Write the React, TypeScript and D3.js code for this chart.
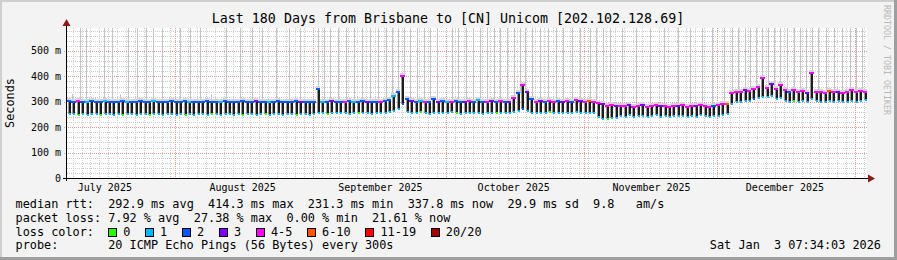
import React from 'react';
import * as d3 from 'd3';

const W = 897;
const H = 260;
const DAY = 86400000;
const END = Date.UTC(2026, 0, 3, 17, 34);
const START = END - 180 * DAY;

const title = 'Last 180 Days from Brisbane to [CN] Unicom [202.102.128.69]';
const yTicks = [0, 100, 200, 300, 400, 500];
const yTickLabels = ['0', '100 m', '200 m', '300 m', '400 m', '500 m'];
const monthStarts = ['2025-07-01', '2025-08-01', '2025-09-01', '2025-10-01', '2025-11-01', '2025-12-01', '2026-01-01'];
const monthLabels = ['July 2025', 'August 2025', 'September 2025', 'October 2025', 'November 2025', 'December 2025'];

const lossLabels = ['0', '1', '2', '3', '4-5', '6-10', '11-19', '20/20'];
const lossColors = ['#26ff00', '#00b8ff', '#0059ff', '#7e00ff', '#ff00ff', '#ff5500', '#ff0000', '#a10000'];

// daily median level (ms), day 0 = start of chart
const dayTop = [
  302, 300, 305, 298, 301, 303, 299, 300, 302, 298, 301, 300, 304, 299, 301, 300, 302, 298, 300, 303, 299, 301, 300, 302, 299,
  300, 302, 299, 301, 300, 298, 303, 301, 299, 300, 302, 300, 298, 301, 305, 300, 299, 302, 300, 301, 298, 300, 303, 299, 301, 300, 302, 299, 300, 301, 300,
  350, 301, 299, 302, 300, 298, 301, 303, 300, 299, 302, 300, 298, 301, 300, 302,
  308, 322, 338, 400, 310,
  302, 300, 305, 299, 301, 310, 300, 303, 298, 301, 304, 300, 299, 302, 300, 306, 301, 299, 303, 300, 302, 298, 301,
  315, 335, 365, 340, 310,
  301, 303, 299, 305, 300, 302, 298, 304, 300, 306, 302, 299, 303, 300,
  295, 290, 285, 288, 285,
  285, 282, 287, 280, 284, 286, 281, 283, 288, 282, 285, 280, 284, 283, 286, 281, 285, 282, 287, 283, 280, 284, 288, 290, 292,
  335,
  340, 338, 345, 342, 350, 360, 392, 355, 370, 352, 366, 348, 340, 345, 338, 342, 336, 415, 340, 338, 335, 342, 337, 340, 336, 339, 345, 338, 341, 338,
];
// daily low dip (ms)
const dayDip = [
  252, 250, 248, 251, 249, 250, 252, 248, 250, 251, 249, 250, 248, 252, 250, 249, 251, 250, 248, 250, 252, 249, 251, 250, 248,
  250, 248, 251, 249, 252, 250, 248, 250, 251, 249, 250, 252, 248, 250, 249, 251, 250, 248, 252, 250, 249, 251, 250, 248, 250, 252, 249, 250, 251, 249, 250,
  255, 255, 253, 256, 254, 257, 255, 253, 256, 254, 255, 257, 253, 255, 256, 254,
  258, 262, 270, 290, 258,
  256, 254, 258, 255, 253, 257, 255, 254, 256, 258, 255, 253, 256, 254, 257, 255, 253, 256, 254, 255, 257, 256, 254,
  258, 262, 270, 265, 256,
  255, 257, 254, 258, 256, 255, 257, 254, 256, 258, 255, 257, 254, 256,
  240, 232, 231, 235, 238,
  245, 242, 247, 240, 244, 246, 241, 243, 248, 242, 245, 240, 244, 243, 246, 241, 245, 242, 247, 243, 240, 244, 246, 248, 250,
  290,
  300, 298, 305, 302, 310, 315, 320, 318, 322, 310, 315, 305, 300, 302, 298, 305, 300, 310, 302, 300, 298, 305, 300, 302, 298, 300, 305, 300, 302, 308,
];
const topLoss = [
  2, 2, 4, 2, 1, 2, 2, 2, 1, 2, 2, 2, 2, 1, 2, 2, 2, 2, 2, 1, 2, 2, 2, 2, 2,
  2, 2, 1, 2, 2, 2, 2, 2, 2, 1, 2, 2, 2, 2, 2, 2, 2, 3, 2, 2, 1, 2, 2, 2, 2, 2, 2, 3, 2, 2, 2,
  2, 1, 2, 3, 2, 2, 4, 2, 1, 2, 2, 3, 2, 2, 4, 2,
  2, 1, 2, 4, 2,
  3, 2, 1, 4, 2, 2, 3, 2, 1, 4, 2, 2, 3, 4, 2, 1, 2, 4, 3, 2, 4, 2, 3,
  4, 2, 4, 3, 2,
  4, 3, 2, 4, 4, 2, 3, 4, 2, 4, 3, 4, 5, 4,
  4, 3, 4, 4, 3,
  4, 4, 3, 4, 4, 3, 4, 4, 4, 3, 4, 4, 4, 3, 4, 4, 4, 3, 4, 4, 4, 2, 4, 4, 5,
  4,
  4, 4, 3, 4, 4, 4, 4, 4, 3, 4, 4, 4, 2, 4, 4, 4, 3, 4, 4, 4, 4, 5, 4, 3, 4, 4, 4, 4, 4, 4,
];
const dipLoss = [
  1, 1, 0, 1, 1, 1, 1, 0, 1, 1, 1, 1, 0, 1, 1, 1, 1, 1, 0, 1, 1, 1, 1, 1, 1,
  1, 0, 1, 1, 1, 1, 1, 0, 1, 1, 1, 1, 1, 1, 0, 1, 1, 1, 1, 0, 1, 1, 1, 1, 1, 1, 0, 1, 1, 1, 1,
  1, 1, 0, 1, 1, 1, 1, 1, 1, 0, 1, 1, 1, 1, 1, 1,
  1, 1, 1, 2, 1,
  1, 1, 0, 1, 1, 1, 1, 1, 1, 1, 0, 1, 1, 1, 1, 1, 1, 1, 1, 0, 1, 1, 1,
  1, 1, 2, 1, 1,
  1, 1, 1, 0, 1, 1, 1, 1, 1, 1, 1, 1, 1, 1,
  1, 1, 0, 1, 1,
  1, 1, 1, 1, 1, 1, 1, 1, 1, 1, 1, 1, 1, 1, 1, 1, 1, 1, 1, 1, 1, 1, 1, 1, 1,
  1,
  1, 1, 1, 1, 2, 1, 1, 1, 1, 1, 1, 1, 1, 0, 1, 1, 1, 1, 1, 1, 1, 1, 1, 1, 1, 1, 1, 1, 1, 1,
];

// tall light smoke (day offset from start, max ms)
const smokeDay = [
  1.1, 2.9, 4.3, 6.3, 8.3, 10.1, 11.9, 13.7, 15.8, 17.8, 19.4, 21.4, 25.4, 27.7, 29.9, 32.4, 35.8, 38.9, 41.6, 43.9, 47.0, 50.0, 52.4,
  56.5, 57.8, 59.2, 61.0, 62.8, 64.6, 66.4, 68.2, 70.0, 71.8, 73.1, 74.5, 75.8, 77.2, 78.8, 80.3, 81.7, 83.3,
  86.6, 88.0, 89.8, 91.4, 92.9, 94.5, 96.1, 97.4, 99.0, 100.6, 101.9, 103.1, 104.6, 106.4, 108.2, 110.0, 111.6, 113.6, 115.4,
  117.7, 119.0, 120.6, 122.2, 124.9, 128.0, 131.2, 134.3, 137.5, 140.2, 142.9, 145.1, 147.8,
  149.6, 151.0, 152.6, 153.7, 155.0, 156.4, 157.7, 159.1, 160.4, 162.0, 163.6, 164.9, 166.3, 167.6, 169.0, 170.8, 172.6, 174.4, 176.2, 177.5, 178.9,
];
const smokeMax = [
  330, 600, 600, 320, 600, 600, 330, 600, 600, 600, 600, 600, 600, 600, 600, 330, 600, 600, 600, 600, 600, 600, 600,
  600, 600, 600, 600, 600, 600, 600, 600, 600, 600, 600, 600, 600, 600, 600, 600, 600, 600,
  600, 600, 600, 600, 600, 600, 600, 600, 600, 600, 600, 600, 600, 600, 600, 600, 600, 600, 600,
  600, 600, 600, 600, 600, 600, 600, 600, 600, 600, 600, 600, 600,
  600, 600, 600, 600, 600, 600, 600, 600, 600, 600, 600, 600, 600, 600, 600, 600, 600, 600, 600, 600, 600,
];

const legendRows = [
  'median rtt:  292.9 ms avg  414.3 ms max  231.3 ms min  337.8 ms now  29.9 ms sd  9.8   am/s',
  'packet loss: 7.92 % avg  27.38 % max  0.00 % min  21.61 % now',
];
const probeLabel = 'probe:';
const probeText = '20 ICMP Echo Pings (56 Bytes) every 300s';
const dateText = 'Sat Jan  3 07:34:03 2026';

const FONT = "'DejaVu Sans Mono', monospace";
const CW = 7.13;

export default function App() {
  const x = d3.scaleUtc().domain([START, END]).range([67, 867]);
  const y = d3.scaleLinear().domain([0, 590.5]).range([178, 28]);
  const px0 = 67, px1 = 867, py0 = 28, py1 = 178;

  const minorY = d3.range(0, 591, 20).filter((v) => v % 100 !== 0);
  const janFirst = Date.UTC(2026, 0, 1);
  const minorX: number[] = [];
  for (let t = janFirst + 2 * DAY * 2; t > START; t -= 2 * DAY) if (t < END) minorX.push(t);
  const majors = monthStarts.map((s) => Date.parse(s + 'T00:00:00Z')).filter((t) => t > START && t < END);
  const labelTimes = monthStarts.slice(0, 6).map((s) => Date.parse(s + 'T00:00:00Z') + 15.25 * DAY);

  const dw = x(START + DAY) - x(START);

  let sx = 16 + 13 * CW - 0.5;
  const swatches = lossLabels.map((lab, i) => {
    const pos = sx;
    sx = pos + 15.3 + lab.length * CW + 14.5;
    return { lab, pos, color: lossColors[i] };
  });

  return (
    <svg width={W} height={H} style={{ display: 'block', position: 'absolute', left: 0, top: 0 }}>
      <rect x={0} y={0} width={W} height={H} fill="#f3f3f3" />
      <rect x={0} y={0} width={W} height={2} fill="#cfcfcf" />
      <rect x={0} y={0} width={2} height={H} fill="#cfcfcf" />
      <rect x={0} y={H - 3} width={W} height={3} fill="#9e9e9e" />
      <rect x={W - 3} y={0} width={3} height={H} fill="#9e9e9e" />

      <rect x={px0} y={py0} width={px1 - px0} height={py1 - py0} fill="#ffffff" />

      {/* minor grid */}
      {minorY.map((v) => (
        <line key={'my' + v} x1={px0} x2={px1} y1={Math.round(y(v)) + 0.5} y2={Math.round(y(v)) + 0.5}
          stroke="#cdcdcd" strokeDasharray="1,1" />
      ))}
      {minorX.map((t) => (
        <line key={'mx' + t} x1={Math.round(x(t)) + 0.5} x2={Math.round(x(t)) + 0.5} y1={py0} y2={py1}
          stroke="#cdcdcd" strokeDasharray="1,1" />
      ))}

      {/* tall smoke */}
      {smokeDay.map((d, i) => {
        const xx = Math.round(x(START + d * DAY)) + 0.5;
        const di = Math.min(179, Math.floor(d));
        return (
          <line key={'sm' + i} x1={xx} x2={xx} y1={y(dayTop[di])} y2={Math.max(py0, y(smokeMax[i]))}
            stroke="#c4c4c4" strokeWidth={1} />
        );
      })}

      {/* major grid */}
      {yTicks.filter((v) => v > 0).map((v) => (
        <line key={'My' + v} x1={px0 - 3} x2={px1} y1={Math.round(y(v)) + 0.5} y2={Math.round(y(v)) + 0.5}
          stroke="#e79a9a" strokeDasharray="1,1" />
      ))}
      {majors.map((t) => (
        <line key={'Mx' + t} x1={Math.round(x(t)) + 0.5} x2={Math.round(x(t)) + 0.5} y1={py0} y2={py1 + 2}
          stroke="#e79a9a" strokeDasharray="1,1" />
      ))}

      {/* daily smoke + median */}
      {dayTop.map((top, i) => {
        const x0 = x(START + i * DAY);
        const yt = Math.round(y(top));
        const yd = Math.round(y(dayDip[i]));
        const bx = Math.round(x0 + dw * 0.45);
        return (
          <g key={'d' + i}>
            <rect x={Math.round(x0)} y={yt - 3} width={Math.round(x0 + dw) - Math.round(x0)} height={4} fill="#d4d4d4" />
            <rect x={bx - 1} y={yt} width={1} height={yd - yt} fill="#9a9a9a" />
            <rect x={bx} y={yt} width={2} height={yd - yt} fill="#1c1c1c" />
            <rect x={Math.round(x0)} y={yt - 1} width={Math.round(x0 + dw) - Math.round(x0)} height={2} fill={lossColors[topLoss[i]]} />
            <rect x={bx} y={yd - 1} width={2} height={2} fill={lossColors[dipLoss[i]]} />
          </g>
        );
      })}

      {/* axes */}
      <line x1={66.5} x2={66.5} y1={py0 - 2} y2={py1 + 3} stroke="#000" />
      <line x1={63} x2={868} y1={178.5} y2={178.5} stroke="#000" />
      <path d="M66.5,19 L62.5,26 L70.5,26 Z" fill="#8b1a1a" />
      <path d="M875,178.5 L868,174.5 L868,182.5 Z" fill="#8b1a1a" />

      {yTicks.map((v, i) => (
        <text key={'yl' + v} x={61} y={y(v) + 3.5} fontFamily={FONT} fontSize={10} textAnchor="end" fill="#000">
          {yTickLabels[i]}
        </text>
      ))}
      {labelTimes.map((t, i) => (
        <text key={'xl' + i} x={x(t)} y={191} fontFamily={FONT} fontSize={10} textAnchor="middle" fill="#000">
          {monthLabels[i]}
        </text>
      ))}

      <text x={14} y={103} fontFamily={FONT} fontSize={11.85} textAnchor="middle" transform="rotate(-90 14 103)" fill="#000">
        Seconds
      </text>
      <text x={448} y={23} fontFamily={FONT} fontSize={13.3} textAnchor="middle" fill="#000" style={{ whiteSpace: 'pre' }}>
        {title}
      </text>
      <text x={884} y={5} fontFamily={FONT} fontSize={8.3} fill="#b8b8b8" transform="rotate(90 884 5)">
        RRDTOOL / TOBI OETIKER
      </text>

      {legendRows.map((r, i) => (
        <text key={'lg' + i} x={15.5} y={208 + i * 13.8} fontFamily={FONT} fontSize={11.85} fill="#000" style={{ whiteSpace: 'pre' }}>
          {r}
        </text>
      ))}
      <text x={15.5} y={235.5} fontFamily={FONT} fontSize={11.85} fill="#000">loss color:</text>
      {swatches.map((s) => (
        <g key={'sw' + s.lab}>
          <rect x={Math.round(s.pos) + 0.5} y={228.5} width={8} height={8} fill={s.color} stroke="#000" />
          <text x={s.pos + 15} y={235.5} fontFamily={FONT} fontSize={11.85} fill="#000">{s.lab}</text>
        </g>
      ))}
      <text x={15.5} y={249.3} fontFamily={FONT} fontSize={11.85} fill="#000">{probeLabel}</text>
      <text x={15.5 + 13 * CW} y={249.3} fontFamily={FONT} fontSize={11.85} fill="#000" style={{ whiteSpace: 'pre' }}>
        {probeText}
      </text>
      <text x={881} y={249.3} fontFamily={FONT} fontSize={11.85} fill="#000" textAnchor="end" style={{ whiteSpace: 'pre' }}>
        {dateText}
      </text>
    </svg>
  );
}
